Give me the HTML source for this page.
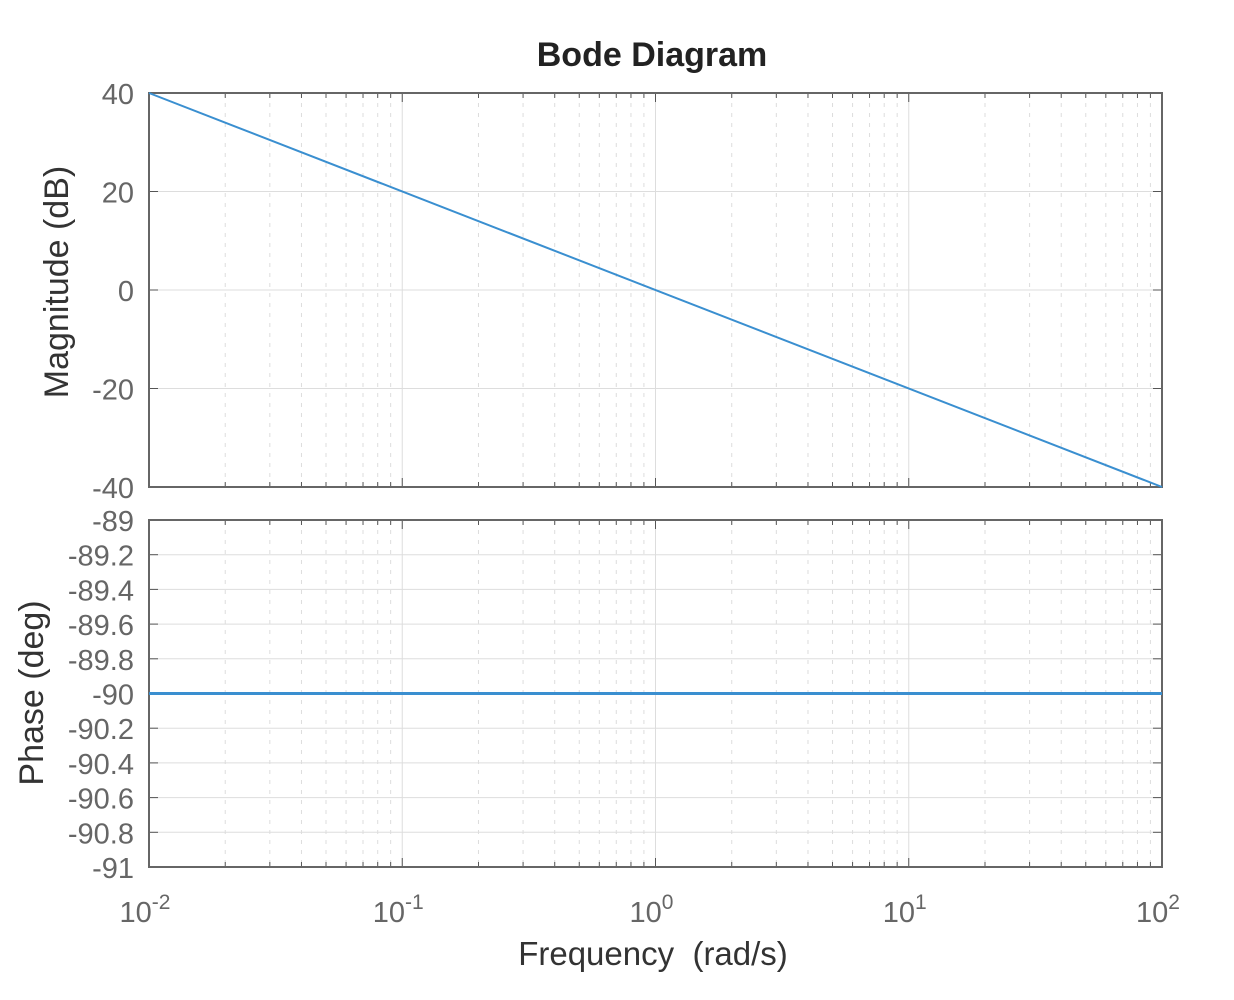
<!DOCTYPE html>
<html><head><style>body{margin:0;background:#fff}svg{display:block}</style></head>
<body>
<svg id="s" width="1234" height="1000" xmlns="http://www.w3.org/2000/svg" font-family="Liberation Sans, sans-serif">
<rect width="1234" height="1000" fill="#fff"/>
<text x="652" y="66" font-size="34" font-weight="bold" text-anchor="middle" fill="#222">Bode Diagram</text>
<text x="653" y="965" font-size="33" text-anchor="middle" fill="#333" xml:space="preserve">Frequency  (rad/s)</text>
<text transform="translate(68,282) rotate(-90)" font-size="34" text-anchor="middle" fill="#333">Magnitude (dB)</text>
<text transform="translate(43,693) rotate(-90)" font-size="34" text-anchor="middle" fill="#333">Phase (deg)</text>
<g id="g"></g>
</svg>
<script>
const L=149,R=1162,D=(R-L)/4;const g=document.getElementById('g');let h='';
function lx(v){return L+(Math.log10(v)+2)*D;}
function box(T,B){
 for(let d=-2;d<2;d++)for(let k=2;k<=9;k++){const x=lx(k*Math.pow(10,d));
  h+=`<line x1="${x}" y1="${T}" x2="${x}" y2="${B}" stroke="#ddd" stroke-dasharray="4,6"/>`;
  h+=`<line x1="${x}" y1="${B}" x2="${x}" y2="${B-5}" stroke="#555"/><line x1="${x}" y1="${T}" x2="${x}" y2="${T+5}" stroke="#555"/>`;}
 for(let d=1;d<4;d++){const x=L+d*D;h+=`<line x1="${x}" y1="${T}" x2="${x}" y2="${B}" stroke="#ddd"/>`;
  h+=`<line x1="${x}" y1="${B}" x2="${x}" y2="${B-9}" stroke="#555"/><line x1="${x}" y1="${T}" x2="${x}" y2="${T+9}" stroke="#555"/>`;}
}
let T1=93,B1=487;box(T1,B1);
for(let i=0;i<=4;i++){const y=T1+i*(B1-T1)/4;
 if(i>0&&i<4)h+=`<line x1="${L}" y1="${y}" x2="${R}" y2="${y}" stroke="#ddd"/>`;
 h+=`<line x1="${L}" y1="${y}" x2="${L+9}" y2="${y}" stroke="#555"/><line x1="${R}" y1="${y}" x2="${R-9}" y2="${y}" stroke="#555"/>`;
 h+=`<text x="134" y="${y+11}" font-size="29" text-anchor="end" fill="#666">${40-20*i}</text>`;}
h+=`<rect x="${L}" y="${T1}" width="${R-L}" height="${B1-T1}" fill="none" stroke="#666" stroke-width="2"/>`;
h+=`<line x1="${L}" y1="${T1}" x2="${R}" y2="${B1}" stroke="#3a8fd0" stroke-width="2"/>`;
let T2=520,B2=867;box(T2,B2);
const lab=['-89','-89.2','-89.4','-89.6','-89.8','-90','-90.2','-90.4','-90.6','-90.8','-91'];
for(let i=0;i<=10;i++){const y=T2+i*(B2-T2)/10;
 if(i>0&&i<10)h+=`<line x1="${L}" y1="${y}" x2="${R}" y2="${y}" stroke="#ddd"/>`;
 h+=`<line x1="${L}" y1="${y}" x2="${L+9}" y2="${y}" stroke="#555"/><line x1="${R}" y1="${y}" x2="${R-9}" y2="${y}" stroke="#555"/>`;
 h+=`<text x="134" y="${y+11}" font-size="29" text-anchor="end" fill="#666">${lab[i]}</text>`;}
h+=`<rect x="${L}" y="${T2}" width="${R-L}" height="${B2-T2}" fill="none" stroke="#666" stroke-width="2"/>`;
h+=`<line x1="${L}" y1="693.5" x2="${R}" y2="693.5" stroke="#3a8fd0" stroke-width="3"/>`;
for(let d=0;d<=4;d++){const x=L+d*D;
 h+=`<text x="${x-4}" y="922" font-size="29" text-anchor="middle" fill="#666">10<tspan dy="-13" font-size="21">${d-2}</tspan></text>`;}
g.innerHTML=h;
</script>
</body></html>
